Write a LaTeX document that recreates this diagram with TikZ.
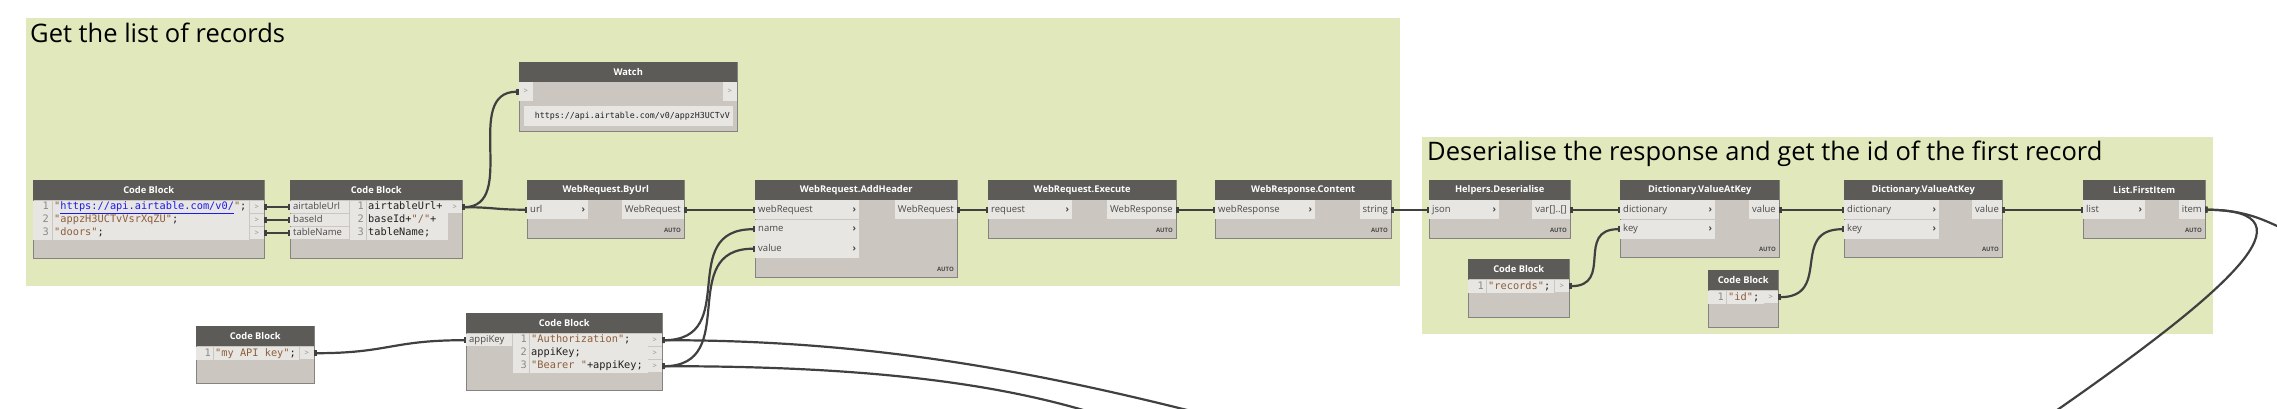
\documentclass[tikz,border=0pt]{standalone}
\usepackage{fontspec}
\setmainfont{Open Sans}
\newfontfamily\monofont{DejaVu Sans Mono}
\usetikzlibrary{arrows.meta}

\definecolor{grp}{HTML}{E1E9BC}
\definecolor{hdr}{HTML}{5C5B58}
\definecolor{bodyc}{HTML}{CBC7C0}
\definecolor{cell}{HTML}{E8E6E2}
\definecolor{rim}{HTML}{858380}
\definecolor{wirec}{HTML}{404040}
\definecolor{strc}{HTML}{8C5E3C}
\definecolor{urlc}{HTML}{1A1AF0}
\definecolor{numc}{HTML}{8A8A8A}
\definecolor{txtc}{HTML}{4A4A4A}
\definecolor{codec}{HTML}{202020}

\newcommand{\portfont}{\fontsize{9.5}{11}\selectfont}
\newcommand{\codefont}{\monofont\fontsize{10.3}{13}\selectfont}
\newcommand{\chev}{\textbf{\char"203A}}
\newcommand{\str}[1]{\textcolor{strc}{#1}}

\tikzstyle{grpbox} = [rectangle, fill=grp, inner sep=0pt, anchor=north west]
\tikzstyle{gtitle} = [anchor=base west, inner sep=0pt, font=\fontsize{25.5}{30}\selectfont]
\tikzstyle{body} = [rectangle, draw=rim, fill=bodyc, line width=0.8pt, inner sep=0pt, anchor=north west]
\tikzstyle{header} = [rectangle, fill=hdr, text=white, inner sep=0pt, anchor=north west, minimum height=20pt, font=\bfseries\fontsize{9.3}{11}\selectfont]
\tikzstyle{inport} = [rectangle, fill=cell, anchor=north west, inner xsep=3pt, inner ysep=0pt, minimum height=19pt, align=left, text height=7pt, text depth=2.2pt, font=\portfont, text=txtc]
\tikzstyle{outport} = [rectangle, fill=cell, anchor=north east, inner xsep=3pt, inner ysep=0pt, minimum height=19pt, text height=7pt, text depth=2.2pt, font=\portfont, text=txtc]
\tikzstyle{icell} = [inport, minimum height=12pt]
\tikzstyle{ocell} = [rectangle, fill=cell, anchor=north east, inner sep=0pt, minimum width=14pt, minimum height=12pt, font=\fontsize{7.5}{8}\selectfont, text=numc]
\tikzstyle{pcell} = [ocell, minimum height=19pt]
\tikzstyle{codecell} = [rectangle, fill=cell, anchor=north west, inner sep=0pt]
\tikzstyle{lnum} = [anchor=north east, inner sep=0pt, align=right, font=\codefont, text=numc, execute at begin node=\strut]
\tikzstyle{codetext} = [anchor=north west, inner sep=0pt, align=left, font=\codefont, text=codec, execute at begin node=\strut]
\tikzstyle{showcell} = [rectangle, fill=cell, anchor=north east, inner xsep=3pt, inner ysep=0pt, minimum height=20pt, font=\monofont\fontsize{8.3}{10}\selectfont, text=codec]
\tikzstyle{lacing} = [anchor=base east, inner sep=0pt, font=\bfseries\fontsize{6}{7}\selectfont, text=txtc]
\tikzstyle{sepline} = [draw=bodyc, line width=0.6pt]
\tikzstyle{wire} = [draw=wirec, line width=2.2pt, {Rectangle[length=2.5pt,width=6pt]}-{Rectangle[length=2.5pt,width=6pt]}]
\tikzstyle{openend} = [{Rectangle[length=2.5pt,width=6pt]}-]

% one Dynamo node: name, left, top, width, height, title
\newcommand{\dynbox}[6]{%
  \node[body, minimum width=#4, minimum height=#5] (#1) at (#2,#3) {};
  \node[header, minimum width=#4] (#1-h) at (#2,#3) {#6};}

\begin{document}
\begin{tikzpicture}[x=1pt, y=-1pt]
      \useasboundingbox (0,0) rectangle (2277,408);
      \path[clip] (0,0) rectangle (2277,408);

      % Groups
      \node [grpbox, minimum width=1374, minimum height=268] (grpA) at (26,18) {};
      \node [gtitle] (grpA-t) at (30,42.7) {Get the list of records};
      \node [grpbox, minimum width=791, minimum height=197] (grpB) at (1422,137) {};
      \node [gtitle] (grpB-t) at (1427,160) {Deserialise the response and get the id of the first record};

      % Place nodes
      \dynbox{cbUrl}{33}{180}{231}{78}{Code Block}
      \node [codecell, minimum width=216, minimum height=39] (cbUrl-c) at (33,200.5) {};
      \draw [sepline] (52,201) -- (52,239.5);
      \node [lnum] (cbUrl-n) at (49,201.4) {1\\2\\3};
      \node [codetext] (cbUrl-t) at (54,201.4) {\str{"}\textcolor{urlc}{\underline{https://api.airtable.com/v0/}}\str{"};\\\str{"appzH3UCTvVsrXqZU"};\\\str{"doors"};};
      \node [ocell] (cbUrl-o1) at (264,201) {>};
      \node [ocell] (cbUrl-o2) at (264,214) {>};
      \node [ocell] (cbUrl-o3) at (264,227) {>};

      \dynbox{cbBase}{290}{180}{172}{78}{Code Block}
      \node [icell, text width=53] (cbBase-i1) at (290,201) {airtableUrl};
      \node [icell, text width=53] (cbBase-i2) at (290,214) {baseId};
      \node [icell, text width=53] (cbBase-i3) at (290,227) {tableName};
      \node [codecell, minimum width=98, minimum height=39] (cbBase-c) at (349.5,200.5) {};
      \draw [sepline] (366,201) -- (366,239.5);
      \node [lnum] (cbBase-n) at (364,201.4) {1\\2\\3};
      \node [codetext] (cbBase-t) at (368,201.4) {airtableUrl+\\baseId+\str{"/"}+\\tableName;};
      \node [ocell] (cbBase-o1) at (462,201) {>};

      \dynbox{watch}{519}{62}{218}{69}{Watch}
      \node [pcell] (watch-in) at (533,82) {>};
      \node [pcell] (watch-out) at (737,82) {>};
      \node [showcell, text width=203, align=right] (watch-v) at (733,106) {https://api.airtable.com/v0/appzH3UCTvV};

      \dynbox{byUrl}{527}{180}{157}{58}{WebRequest.ByUrl}
      \node [inport, text width=55] (byUrl-url) at (527,200) {url\hfill\chev};
      \node [outport] (byUrl-out) at (684,200) {WebRequest};
      \node [lacing] (byUrl-l) at (681,232) {AUTO};

      \dynbox{addH}{755}{180}{202}{97}{WebRequest.AddHeader}
      \node [inport, text width=98] (addH-web) at (755,200) {webRequest\hfill\chev};
      \node [inport, text width=98] (addH-name) at (755,219.5) {name\hfill\chev};
      \node [inport, text width=98] (addH-val) at (755,239) {value\hfill\chev};
      \node [outport] (addH-out) at (957,200) {WebRequest};
      \node [lacing] (addH-l) at (954,271) {AUTO};

      \dynbox{exec}{988}{180}{188}{58}{WebRequest.Execute}
      \node [inport, text width=78] (exec-req) at (988,200) {request\hfill\chev};
      \node [outport] (exec-out) at (1176,200) {WebResponse};
      \node [lacing] (exec-l) at (1173,232) {AUTO};

      \dynbox{cont}{1215}{180}{176}{58}{WebResponse.Content}
      \node [inport, text width=94] (cont-in) at (1215,200) {webResponse\hfill\chev};
      \node [outport] (cont-out) at (1391,200) {string};
      \node [lacing] (cont-l) at (1388,232) {AUTO};

      \dynbox{deser}{1429}{180}{141}{58}{Helpers.Deserialise}
      \node [inport, text width=64] (deser-json) at (1429,200) {json\hfill\chev};
      \node [outport] (deser-out) at (1570,200) {var[]..[]};
      \node [lacing] (deser-l) at (1567,232) {AUTO};

      \dynbox{cbRec}{1468}{259}{101}{58}{Code Block}
      \node [codecell, minimum width=86, minimum height=13] (cbRec-c) at (1468,279.5) {};
      \draw [sepline] (1486,280) -- (1486,292.5);
      \node [lnum] (cbRec-n) at (1484,280.4) {1};
      \node [codetext] (cbRec-t) at (1488,280.4) {\str{"records"};};
      \node [ocell] (cbRec-o1) at (1569,280) {>};

      \dynbox{dictA}{1620}{180}{159}{77}{Dictionary.ValueAtKey}
      \node [inport, text width=89] (dictA-dict) at (1620,200) {dictionary\hfill\chev};
      \node [inport, text width=89] (dictA-key) at (1620,219.5) {key\hfill\chev};
      \node [outport] (dictA-out) at (1779,200) {value};
      \node [lacing] (dictA-l) at (1776,251) {AUTO};

      \dynbox{cbId}{1708}{270}{70}{57}{Code Block}
      \node [codecell, minimum width=56, minimum height=13] (cbId-c) at (1708,290.5) {};
      \draw [sepline] (1726,291) -- (1726,303.5);
      \node [lnum] (cbId-n) at (1724,291.4) {1};
      \node [codetext] (cbId-t) at (1728,291.4) {\str{"id"};};
      \node [ocell] (cbId-o1) at (1778,291) {>};

      \dynbox{dictB}{1844}{180}{158}{77}{Dictionary.ValueAtKey}
      \node [inport, text width=89] (dictB-dict) at (1844,200) {dictionary\hfill\chev};
      \node [inport, text width=89] (dictB-key) at (1844,219.5) {key\hfill\chev};
      \node [outport] (dictB-out) at (2002,200) {value};
      \node [lacing] (dictB-l) at (1999,251) {AUTO};

      \dynbox{first}{2083}{180}{122}{58}{List.FirstItem}
      \node [inport, text width=56] (first-list) at (2083,200) {list\hfill\chev};
      \node [outport] (first-out) at (2205,200) {item};
      \node [lacing] (first-l) at (2202,232) {AUTO};

      \dynbox{cbKey}{196}{326}{118}{57}{Code Block}
      \node [codecell, minimum width=103, minimum height=13] (cbKey-c) at (196,346.5) {};
      \draw [sepline] (213,347) -- (213,359.5);
      \node [lnum] (cbKey-n) at (211,347.4) {1};
      \node [codetext] (cbKey-t) at (215,347.4) {\str{"my API key"};};
      \node [ocell] (cbKey-o1) at (314,347) {>};

      \dynbox{cbAuth}{466}{313}{196}{77}{Code Block}
      \node [icell, text width=40] (cbAuth-i1) at (466,334) {appiKey};
      \node [codecell, minimum width=135, minimum height=39] (cbAuth-c) at (512.5,333.5) {};
      \draw [sepline] (529,334) -- (529,372.5);
      \node [lnum] (cbAuth-n) at (527,334.4) {1\\2\\3};
      \node [codetext] (cbAuth-t) at (531,334.4) {\str{"Authorization"};\\appiKey;\\\str{"Bearer "}+appiKey;};
      \node [ocell] (cbAuth-o1) at (662,334) {>};
      \node [ocell] (cbAuth-o2) at (662,347) {>};
      \node [ocell] (cbAuth-o3) at (662,360) {>};

      % free ends of wires that leave the picture
      \coordinate (authEnd) at (1195,412);
      \coordinate (bearerEnd) at (1090,412);
      \coordinate (itemEndA) at (2300,237);
      \coordinate (itemEndB) at (2050,415);

      % Draw edges
      \path [wire] (cbUrl-o1.east) -- (cbBase-i1.west);
      \path [wire] (cbUrl-o2.east) -- (cbBase-i2.west);
      \path [wire] (cbUrl-o3.east) -- (cbBase-i3.west);
      \path [wire] (cbBase-o1.east) .. controls +(57,0) and +(-57,0) .. (watch-in.west);
      \path [wire] (cbBase-o1.east) .. controls +(32,0) and +(-32,0) .. (byUrl-url.west);
      \path [wire] (byUrl-out.east) -- (addH-web.west);
      \path [wire] (addH-out.east) -- (exec-req.west);
      \path [wire] (exec-out.east) -- (cont-in.west);
      \path [wire] (cont-out.east) -- (deser-json.west);
      \path [wire] (deser-out.east) -- (dictA-dict.west);
      \path [wire] (cbRec-o1.east) .. controls +(45,0) and +(-45,0) .. (dictA-key.west);
      \path [wire] (dictA-out.east) -- (dictB-dict.west);
      \path [wire] (cbId-o1.east) .. controls +(55,0) and +(-55,0) .. (dictB-key.west);
      \path [wire] (dictB-out.east) -- (first-list.west);
      \path [wire] (cbKey-o1.east) .. controls +(75,0) and +(-75,0) .. (cbAuth-i1.west);
      \path [wire] (cbAuth-o1.east) .. controls +(80,0) and +(-80,0) .. (addH-name.west);
      \path [wire] (cbAuth-o3.east) .. controls +(80,0) and +(-80,0) .. (addH-val.west);
      \path [wire, openend] (cbAuth-o1.east) .. controls (860,340) and (1020,368) .. (authEnd);
      \path [wire, openend] (cbAuth-o3.east) .. controls (860,366) and (990,382) .. (bearerEnd);
      \path [wire, openend] (first-out.east) .. controls (2250,210) and (2268,222) .. (itemEndA);
      \path [wire, openend] (first-out.east) .. controls (2320,210) and (2230,290) .. (itemEndB);
\end{tikzpicture}
\end{document}
